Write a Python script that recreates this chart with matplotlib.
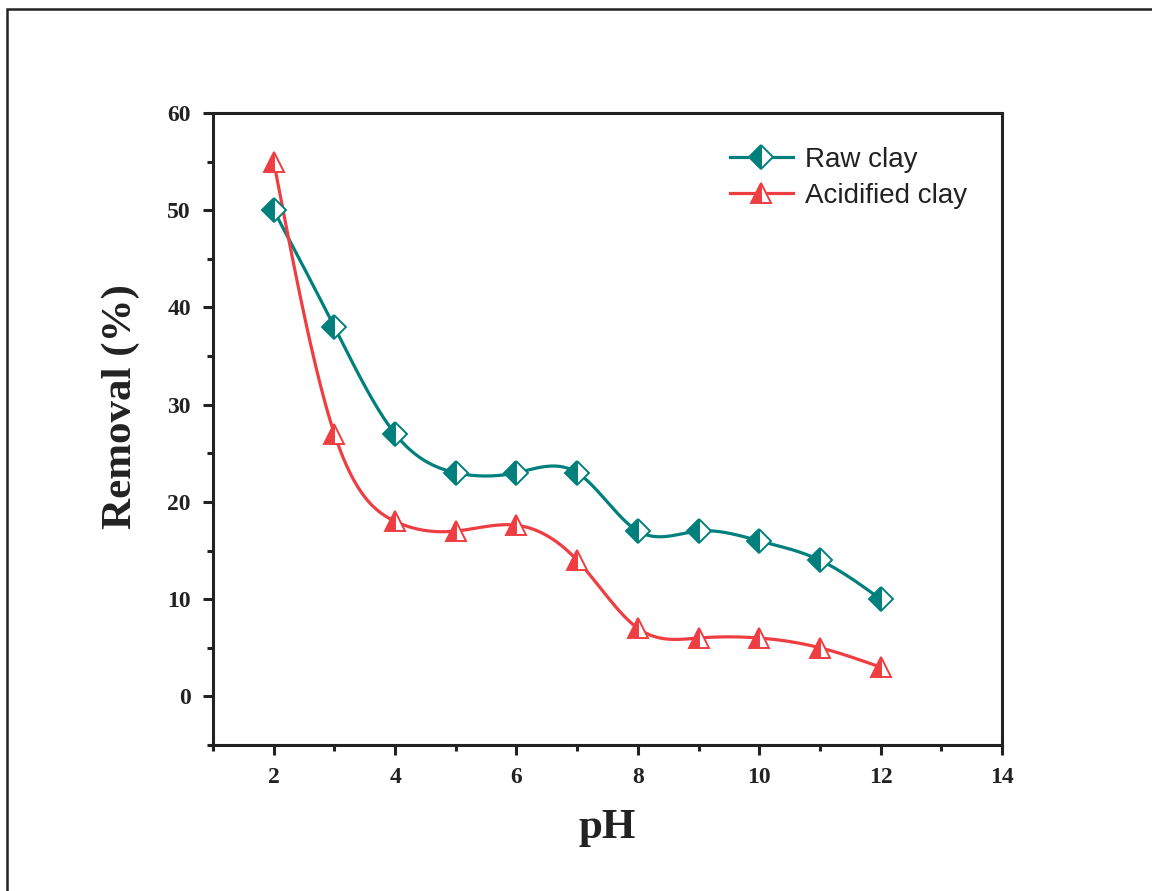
import numpy as np
import matplotlib
matplotlib.use('Agg')
import matplotlib.pyplot as plt
from matplotlib.patches import Rectangle
from matplotlib.ticker import MultipleLocator

# data
ph = [2, 3, 4, 5, 6, 7, 8, 9, 10, 11, 12]
raw_clay = [50, 38, 27, 23, 23, 23, 17, 17, 16, 14, 10]
acid_clay = [55, 27, 18, 17, 17.6, 14, 7, 6, 6, 5, 3]

COL_RAW = '#00807C'
COL_ACID = '#EF3E42'


def spline(x, y, n=400):
    """natural cubic spline through the points (for drawing the smooth line)"""
    x = np.asarray(x, float)
    y = np.asarray(y, float)
    m = len(x)
    h = np.diff(x)
    A = np.zeros((m, m))
    b = np.zeros(m)
    A[0, 0] = A[-1, -1] = 1
    for i in range(1, m - 1):
        A[i, i - 1] = h[i - 1]
        A[i, i] = 2 * (h[i - 1] + h[i])
        A[i, i + 1] = h[i]
        b[i] = 6 * ((y[i + 1] - y[i]) / h[i] - (y[i] - y[i - 1]) / h[i - 1])
    M = np.linalg.solve(A, b)
    xs = np.linspace(x[0], x[-1], n)
    idx = np.clip(np.searchsorted(x, xs) - 1, 0, m - 2)
    x0, x1 = x[idx], x[idx + 1]
    hh = x1 - x0
    t0, t1 = x1 - xs, xs - x0
    ys = (M[idx] * t0 ** 3 + M[idx + 1] * t1 ** 3) / (6 * hh) \
        + (y[idx] / hh - M[idx] * hh / 6) * t0 \
        + (y[idx + 1] / hh - M[idx + 1] * hh / 6) * t1
    return xs, ys


fig = plt.figure(figsize=(11.52, 8.91), dpi=100, facecolor='white')
ax = fig.add_axes([0.1849, 0.1639, 0.6849, 0.7093])

# outer frame of the picture (runs off the right and bottom edges)
frame = Rectangle((0.0065, -0.2), 1.3, 1.19, transform=fig.transFigure,
                  fill=False, edgecolor='#222222', linewidth=1.8, clip_on=False)
fig.patches.append(frame)

for yv, col, mk, ms, lbl in [(raw_clay, COL_RAW, 'D', 12, 'Raw clay'),
                             (acid_clay, COL_ACID, '^', 14, 'Acidified clay')]:
    xs, ys = spline(ph, yv)
    ax.plot(xs, ys, color=col, linewidth=2.3, zorder=2)
    ax.plot(ph, yv, linestyle='none', marker=mk, markersize=ms,
            fillstyle='left', markerfacecolor=col, markerfacecoloralt='white',
            markeredgecolor=col, markeredgewidth=1.4, zorder=3)
    # legend proxy
    ax.plot([], [], color=col, linewidth=2.3, marker=mk, markersize=ms,
            fillstyle='left', markerfacecolor=col, markerfacecoloralt='white',
            markeredgecolor=col, markeredgewidth=1.4, label=lbl)

ax.set_xlim(1, 14)
ax.set_ylim(-5, 60)
ax.xaxis.set_minor_locator(MultipleLocator(1))
ax.yaxis.set_minor_locator(MultipleLocator(5))
ax.set_xticks([2, 4, 6, 8, 10, 12, 14])
ax.set_yticks([0, 10, 20, 30, 40, 50, 60])

for s in ax.spines.values():
    s.set_linewidth(2.2)
    s.set_color('#222222')

ax.tick_params(which='major', direction='out', length=7, width=2.2,
               color='#222222', labelsize=17, pad=9)
ax.tick_params(which='minor', direction='out', length=4, width=2.2,
               color='#222222')
for lab in ax.get_xticklabels() + ax.get_yticklabels():
    lab.set_family('Liberation Serif')
    lab.set_fontweight('bold')
    lab.set_color('#222222')

ax.set_xlabel('pH', family='Liberation Serif', fontweight='bold',
              fontsize=31, color='#222222', labelpad=15)
ax.set_ylabel('Removal (%)', family='Liberation Serif', fontweight='bold',
              fontsize=31, color='#222222')
ax.yaxis.set_label_coords(-0.092, 0.535)

leg = ax.legend(loc='upper left', bbox_to_anchor=(0.63, 0.977), frameon=False,
                prop={'family': 'Liberation Sans', 'size': 20},
                handlelength=2.3, handletextpad=0.4, labelspacing=0.35,
                borderaxespad=0.3)
for t in leg.get_texts():
    t.set_color('#222222')

fig.savefig('out.png', dpi=100, facecolor='white')
